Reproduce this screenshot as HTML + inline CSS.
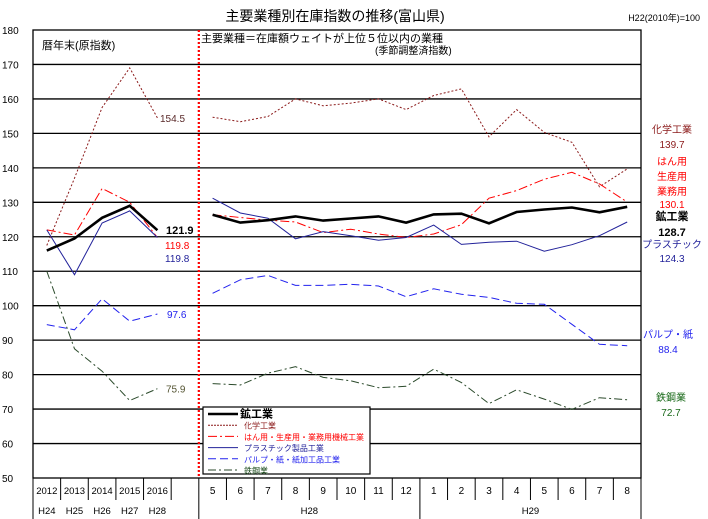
<!DOCTYPE html>
<html><head><meta charset="utf-8"><style>
html,body{margin:0;padding:0;background:#fff;}
svg{display:block;font-family:"Liberation Sans","Noto Sans CJK JP",sans-serif;}
</style></head><body>
<svg id="chart" width="708" height="519" viewBox="0 0 708 519" xmlns="http://www.w3.org/2000/svg">
<text x="335" y="21" font-size="14" text-anchor="middle">主要業種別在庫指数の推移(富山県)</text>
<text x="700" y="21" font-size="9" text-anchor="end">H22(2010年)=100</text>
<g id="grid"></g>
<g id="axes"></g>
<text x="42" y="49" font-size="11">暦年末(原指数)</text>
<text x="201" y="42" font-size="11">主要業種＝在庫額ウェイトが上位５位以内の業種</text>
<text x="375" y="54" font-size="10">(季節調整済指数)</text>
<g id="series"></g>
<g id="labels" font-size="10"></g>
<g id="legend"></g>
</svg>
<script>
const categories=["2012","2013","2014","2015","2016","","5","6","7","8","9","10","11","12","1","2","3","4","5","6","7","8"];
const eraLabels=["H24","H25","H26","H27","H28"];
const yTicks=[50,60,70,80,90,100,110,120,130,140,150,160,170,180];
const miningAnnual=[116,119.5,125.5,129,121.9];
const chemAnnual=[117.5,137,157.5,169,154.5];
const machAnnual=[122,120.5,134,130,119.8];
const plasticAnnual=[122,109,124,127.5,119.8];
const pulpAnnual=[94.5,93,102,95.5,97.6];
const steelAnnual=[110,87.5,81,72.5,75.9];
const miningMonthly=[126.4,124.1,124.8,125.9,124.7,125.3,125.9,124.1,126.5,126.7,123.9,127.2,127.9,128.5,127.1,128.7];
const chemMonthly=[154.7,153.4,154.9,160,158,158.8,160,156.9,161,162.9,149,156.9,150.3,147.4,134.5,139.7];
const machMonthly=[126.4,125.6,124.8,124.3,121.2,122.2,120.8,119.8,120.8,123.5,131.2,133.4,136.7,138.7,135.3,130.1];
const plasticMonthly=[131.2,126.9,125.4,119.4,121.5,120.3,119,119.8,123.4,117.8,118.4,118.7,115.8,117.7,120.3,124.3];
const pulpMonthly=[103.6,107.5,108.8,105.9,105.9,106.2,105.7,102.6,104.9,103.3,102.4,100.7,100.4,94.6,88.8,88.4];
const steelMonthly=[77.4,77,80.4,82.3,79.2,78.2,76.2,76.6,81.6,77.7,71.6,75.6,72.9,69.9,73.3,72.7];

const NS="http://www.w3.org/2000/svg";
const L=33,R=641,T=30,B=478,VMIN=50,VMAX=180;
const slot=(R-L)/categories.length;
const x=i=>L+slot*(i+0.5);
const y=v=>T+(VMAX-v)*(B-T)/(VMAX-VMIN);
function mk(tag,attrs,parent){const e=document.createElementNS(NS,tag);for(const k in attrs)e.setAttribute(k,attrs[k]);parent.appendChild(e);return e;}
const grid=document.getElementById('grid'),axes=document.getElementById('axes');
yTicks.forEach(v=>{
  if(v>VMIN&&v<VMAX){const g=mk('line',{x1:L,x2:R,y1:y(v),y2:y(v),stroke:'#000','stroke-width':1.3},grid);
  
  }
  const t=mk('text',{x:2,y:y(v)+4,'font-size':10},axes);t.textContent=v;
  
  
});
const frame=mk('rect',{x:L,y:T,width:R-L,height:B-T,fill:'none',stroke:'#000','stroke-width':1.3},axes);


categories.forEach((c,i)=>{
  const bx=L+slot*(i+1);
  if(i<categories.length-1){const ln=mk('line',{x1:bx,x2:bx,y1:B,y2:(i==5||i==13)?519:500,stroke:'#000','stroke-width':1},axes);
  
  }
  if(c){const t=mk('text',{x:x(i),y:494,'font-size':i<5?9.5:10,'text-anchor':'middle'},axes);t.textContent=c;
  
  }
});
eraLabels.forEach((e,i)=>{const t=mk('text',{x:x(i),y:514,'font-size':9.5,'text-anchor':'middle'},axes);t.textContent=e;

});
[[x(6),x(13),'H28'],[x(14),x(21),'H29']].forEach(a=>{const t=mk('text',{x:(a[0]+a[1])/2,y:514,'font-size':9.5,'text-anchor':'middle'},axes);t.textContent=a[2];

});
const lb=mk('line',{x1:L,x2:L,y1:B,y2:519,stroke:'#000'},axes);


const rb=mk('line',{x1:R,x2:R,y1:B,y2:519,stroke:'#000'},axes);


const div=mk('line',{x1:L+slot*6,x2:L+slot*6,y1:T,y2:B,stroke:'#f00','stroke-width':2.2,'stroke-dasharray':'2,2'},axes);



const seriesG=document.getElementById('series');
const styles=[
 {name:'chemical',a:chemAnnual,m:chemMonthly,stroke:'#8b1a1a',w:1,dash:'2,2'},
 {name:'pulp-paper',a:pulpAnnual,m:pulpMonthly,stroke:'#2222ee',w:1,dash:'8,4'},
 {name:'steel',a:steelAnnual,m:steelMonthly,stroke:'#2b4a2b',w:1,dash:'8,3,2,3'},
 {name:'machinery',a:machAnnual,m:machMonthly,stroke:'#f00',w:1,dash:'9,3,2,3'},
 {name:'plastic',a:plasticAnnual,m:plasticMonthly,stroke:'#22229a',w:1,dash:''},
 {name:'mining-industry',a:miningAnnual,m:miningMonthly,stroke:'#000',w:2.6,dash:''}
];
styles.forEach(s=>{
  [['annual',s.a,0],['monthly',s.m,6]].forEach(p=>{
    const pts=p[1].map((v,i)=>x(i+p[2]).toFixed(1)+','+y(v).toFixed(1)).join(' ');
    const pl=mk('polyline',{points:pts,fill:'none',stroke:s.stroke,'stroke-width':s.w,'stroke-dasharray':s.dash},seriesG);
    
    
  });
});
const labG=document.getElementById('labels');
const labs=[
 [160,y(154.5)+4,chemAnnual[4].toFixed(1),'#5a2a2a','start',''],
 [166,234,miningAnnual[4].toFixed(1),'#000','start','bold'],
 [165,249,machAnnual[4].toFixed(1),'#f00','start',''],
 [165,262,plasticAnnual[4].toFixed(1),'#22229a','start',''],
 [167,y(pulpAnnual[4])+4,pulpAnnual[4].toFixed(1),'#2222ee','start',''],
 [166,y(steelAnnual[4])+4,steelAnnual[4].toFixed(1),'#555533','start',''],
 [672,133,'化学工業','#8b1a1a','middle',''],
 [672,148,chemMonthly[15].toFixed(1),'#8b1a1a','middle',''],
 [672,165,'はん用','#f00','middle',''],
 [672,180,'生産用','#f00','middle',''],
 [672,195,'業務用','#f00','middle',''],
 [672,208,machMonthly[15].toFixed(1),'#f00','middle',''],
 [672,220,'鉱工業','#000','middle','bold'],
 [672,236,miningMonthly[15].toFixed(1),'#000','middle','bold'],
 [672,248,'プラスチック','#22229a','middle',''],
 [672,262,plasticMonthly[15].toFixed(1),'#22229a','middle',''],
 [668,338,'パルプ・紙','#2222ee','middle',''],
 [668,353,pulpMonthly[15].toFixed(1),'#2222ee','middle',''],
 [671,401,'鉄鋼業','#1a6a1a','middle',''],
 [671,416,steelMonthly[15].toFixed(1),'#1a6a1a','middle','']
];
labs.forEach((l,i)=>{const t=mk('text',{x:l[0],y:l[1],fill:l[3],'text-anchor':l[4],'font-weight':l[5]||'normal','font-size':(l[5]?11:10)},labG);t.textContent=l[2];

});

const lg=document.getElementById('legend');
const box=mk('rect',{x:203,y:407,width:167,height:67,fill:'#fff',stroke:'#000','stroke-width':1.2},lg);


const legendItems=[
 ['鉱工業','#000',2.6,'','#000',11,'bold'],
 ['化学工業','#8b1a1a',1,'2,1','#8b1a1a',8,''],
 ['はん用・生産用・業務用機械工業','#f00',1,'9,3,2,3','#f00',8,''],
 ['プラスチック製品工業','#22229a',1,'','#22229a',8,''],
 ['パルプ・紙・紙加工品工業','#2222ee',1,'8,4','#2222ee',8,''],
 ['鉄鋼業','#2b4a2b',1,'8,3,2,3','#1a4a1a',8,'']
];
legendItems.forEach((it,i)=>{
  const yy=414+i*11.2;
  const ln=mk('line',{x1:208,x2:238,y1:yy,y2:yy,stroke:it[1],'stroke-width':it[2],'stroke-dasharray':it[3]},lg);
  
  
  const t=mk('text',{x:i==0?240:244,y:yy+3.5,fill:it[4],'font-size':it[5],'font-weight':it[6]||'normal'},lg);t.textContent=it[0];
  
  
});
</script>
</body></html>
